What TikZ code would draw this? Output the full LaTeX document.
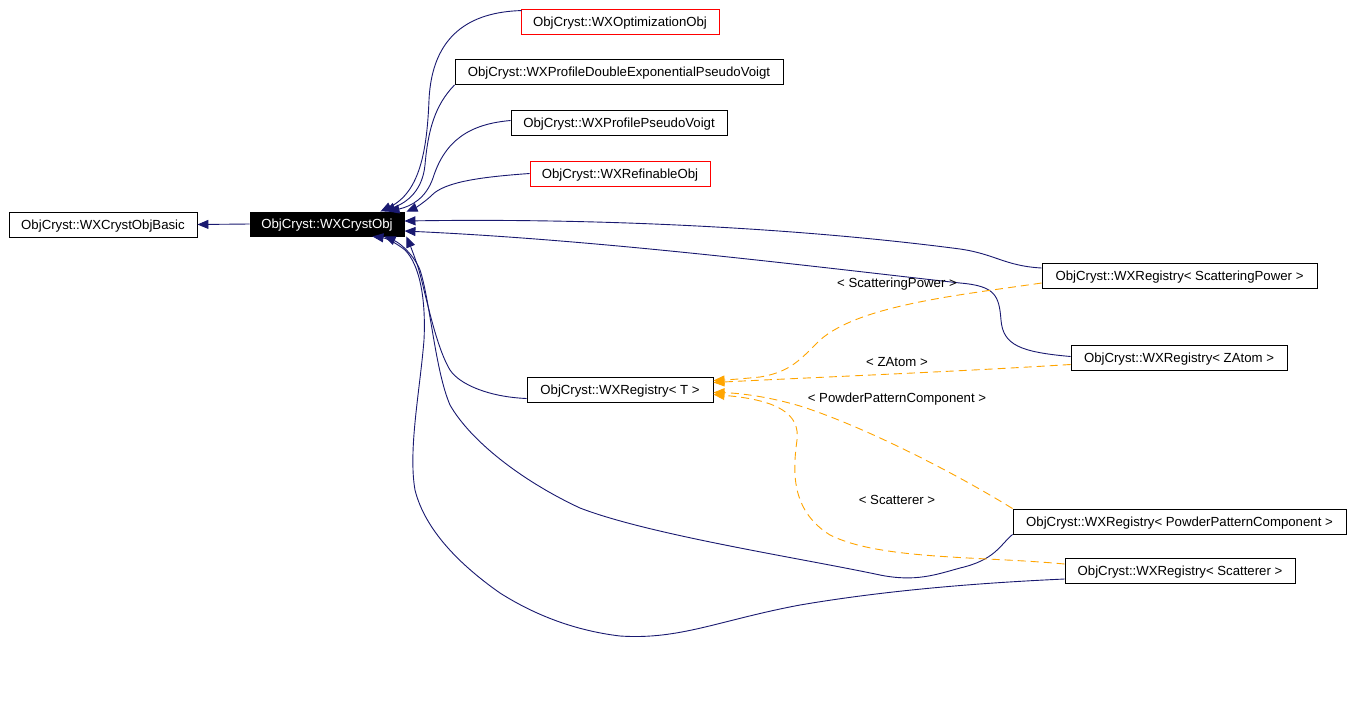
\documentclass[tikz,border=0pt]{standalone}
\usepackage{fontspec}
\setmainfont{Liberation Sans}
\usetikzlibrary{arrows.meta,calc}
\definecolor{navy}{RGB}{25,25,112}
\definecolor{dorange}{RGB}{255,165,0}
\begin{document}
\begin{tikzpicture}[x=1pt,y=-1pt,
  cls/.style={draw=black, line width=0.9pt, fill=white, inner sep=0pt, minimum height=25pt, text height=9.4pt, text depth=0pt, font=\fontsize{13.2}{15}\selectfont},
  redcls/.style={cls, draw=red},
  cur/.style={cls, fill=black, text=white},
  inh/.style={draw=navy, line width=0.9pt, -{Triangle[length=11pt,width=9pt]}},
  tmpl/.style={draw=dorange, line width=0.9pt, dash pattern=on 8pt off 5pt, -{Triangle[length=11pt,width=9pt]}},
  lbl/.style={font=\fontsize{13.2}{15}\selectfont, inner sep=0pt, text height=9.4pt, text depth=0pt}]
\useasboundingbox[fill=white] (0,0) rectangle (1353,724);

\node[cls, minimum width=188pt] (basic) at (103,224.5) {ObjCryst::WXCrystObjBasic};
\node[cur, minimum width=154pt, minimum height=24pt] (crys) at (327,224) {ObjCryst::WXCrystObj};
\node[redcls, minimum width=198pt] (opt) at (620,21.5) {ObjCryst::WXOptimizationObj};
\node[cls, minimum width=328pt] (dexp) at (619,72) {ObjCryst::WXProfileDoubleExponentialPseudoVoigt};
\node[cls, minimum width=216pt] (pv) at (619,122.5) {ObjCryst::WXProfilePseudoVoigt};
\node[redcls, minimum width=180pt] (ref) at (620,173.5) {ObjCryst::WXRefinableObj};
\node[cls, minimum width=186pt] (regT) at (620,389.5) {ObjCryst::WXRegistry< T >};
\node[cls, minimum width=275pt] (regSP) at (1179.5,276) {ObjCryst::WXRegistry< ScatteringPower >};
\node[cls, minimum width=216pt] (regZ) at (1179,357.5) {ObjCryst::WXRegistry< ZAtom >};
\node[cls, minimum width=333pt] (regPPC) at (1179.5,521.5) {ObjCryst::WXRegistry< PowderPatternComponent >};
\node[cls, minimum width=230pt] (regS) at (1180,571) {ObjCryst::WXRegistry< Scatterer >};

% inheritance edges
\draw[inh] (crys.west) -- (basic.east);
\draw[inh] ($(opt.north west)+(1,2)$) .. controls (470,12) and (432,35) .. (429,100)
  .. controls (427,150) and (420,192) .. ($(crys.north east)+(-24,0)$);
\draw[inh] (dexp.south west) .. controls (435,105) and (428,130) .. (425,165)
  .. controls (422,195) and (402,204) .. ($(crys.north east)+(-20,0)$);
\draw[inh] ($(pv.west)+(0,-2)$) .. controls (470,124) and (445,140) .. (433,178)
  .. controls (426,198) and (412,206) .. ($(crys.north east)+(-16,0)$);
\draw[inh] (ref.west) .. controls (480,177) and (445,182) .. (432,195)
  .. controls (425,202) and (415,208) .. ($(crys.north east)+(2,0)$);
\draw[inh] ($(regSP.west)+(0,-8)$) .. controls (1005,266) and (995,254) .. (960,249)
  .. controls (800,228) and (600,218) .. ($(crys.east)+(0,-3)$);
\draw[inh] ($(regZ.west)+(0,-1)$) .. controls (1020,352) and (1003,345) .. (1001,320)
  .. controls (999,295) and (995,286) .. (960,283)
  .. controls (800,265) and (600,240) .. ($(crys.east)+(0,7)$);
\draw[inh] ($(regT.west)+(0,9)$) .. controls (490,397) and (460,385) .. (450,370)
  .. controls (435,345) and (425,290) .. (418,267)
  .. controls (414,255) and (410,245) .. ($(crys.south east)+(2,0)$);
\draw[inh] (regPPC.south west) .. controls (1000,545) and (995,560) .. (960,568)
  .. controls (935,575) and (915,582) .. (880,575)
  .. controls (800,558) and (650,535) .. (580,508)
  .. controls (520,480) and (470,440) .. (450,405)
  .. controls (435,370) and (430,300) .. (420,270)
  .. controls (414,255) and (400,243) .. ($(crys.south east)+(-20,0)$);
\draw[inh] ($(regS.west)+(0,8)$) .. controls (1000,582) and (900,588) .. (800,605)
  .. controls (720,620) and (680,640) .. (620,636)
  .. controls (570,630) and (530,612) .. (500,593)
  .. controls (460,565) and (425,530) .. (415,490)
  .. controls (408,450) and (420,390) .. (424,340)
  .. controls (426,300) and (420,265) .. (405,250)
  .. controls (395,242) and (385,238) .. ($(crys.south east)+(-32,0)$);

% template edges
\draw[tmpl] ($(regSP.west)+(0,7)$) .. controls (960,295) and (860,305) .. (820,340)
  .. controls (800,360) and (790,372) .. (760,377)
  .. controls (740,379) and (725,380) .. ($(regT.east)+(0,-9)$);
\draw[tmpl] ($(regZ.west)+(0,7)$) .. controls (950,372) and (800,378) .. ($(regT.east)+(0,-7)$);
\draw[tmpl] (regPPC.north west) .. controls (950,470) and (860,425) .. (800,406)
  .. controls (770,397) and (740,393) .. ($(regT.east)+(0,3)$);
\draw[tmpl] ($(regS.west)+(0,-7)$) .. controls (980,556) and (880,560) .. (830,535)
  .. controls (790,510) and (793,470) .. (797,440)
  .. controls (800,415) and (780,400) .. ($(regT.east)+(0,5)$);

\node[lbl] (lSP) at (897,283) {< ScatteringPower >};
\node[lbl] (lZ) at (897,362) {< ZAtom >};
\node[lbl] (lPPC) at (897,398) {< PowderPatternComponent >};
\node[lbl] (lS) at (897,500) {< Scatterer >};
\end{tikzpicture}
\end{document}
